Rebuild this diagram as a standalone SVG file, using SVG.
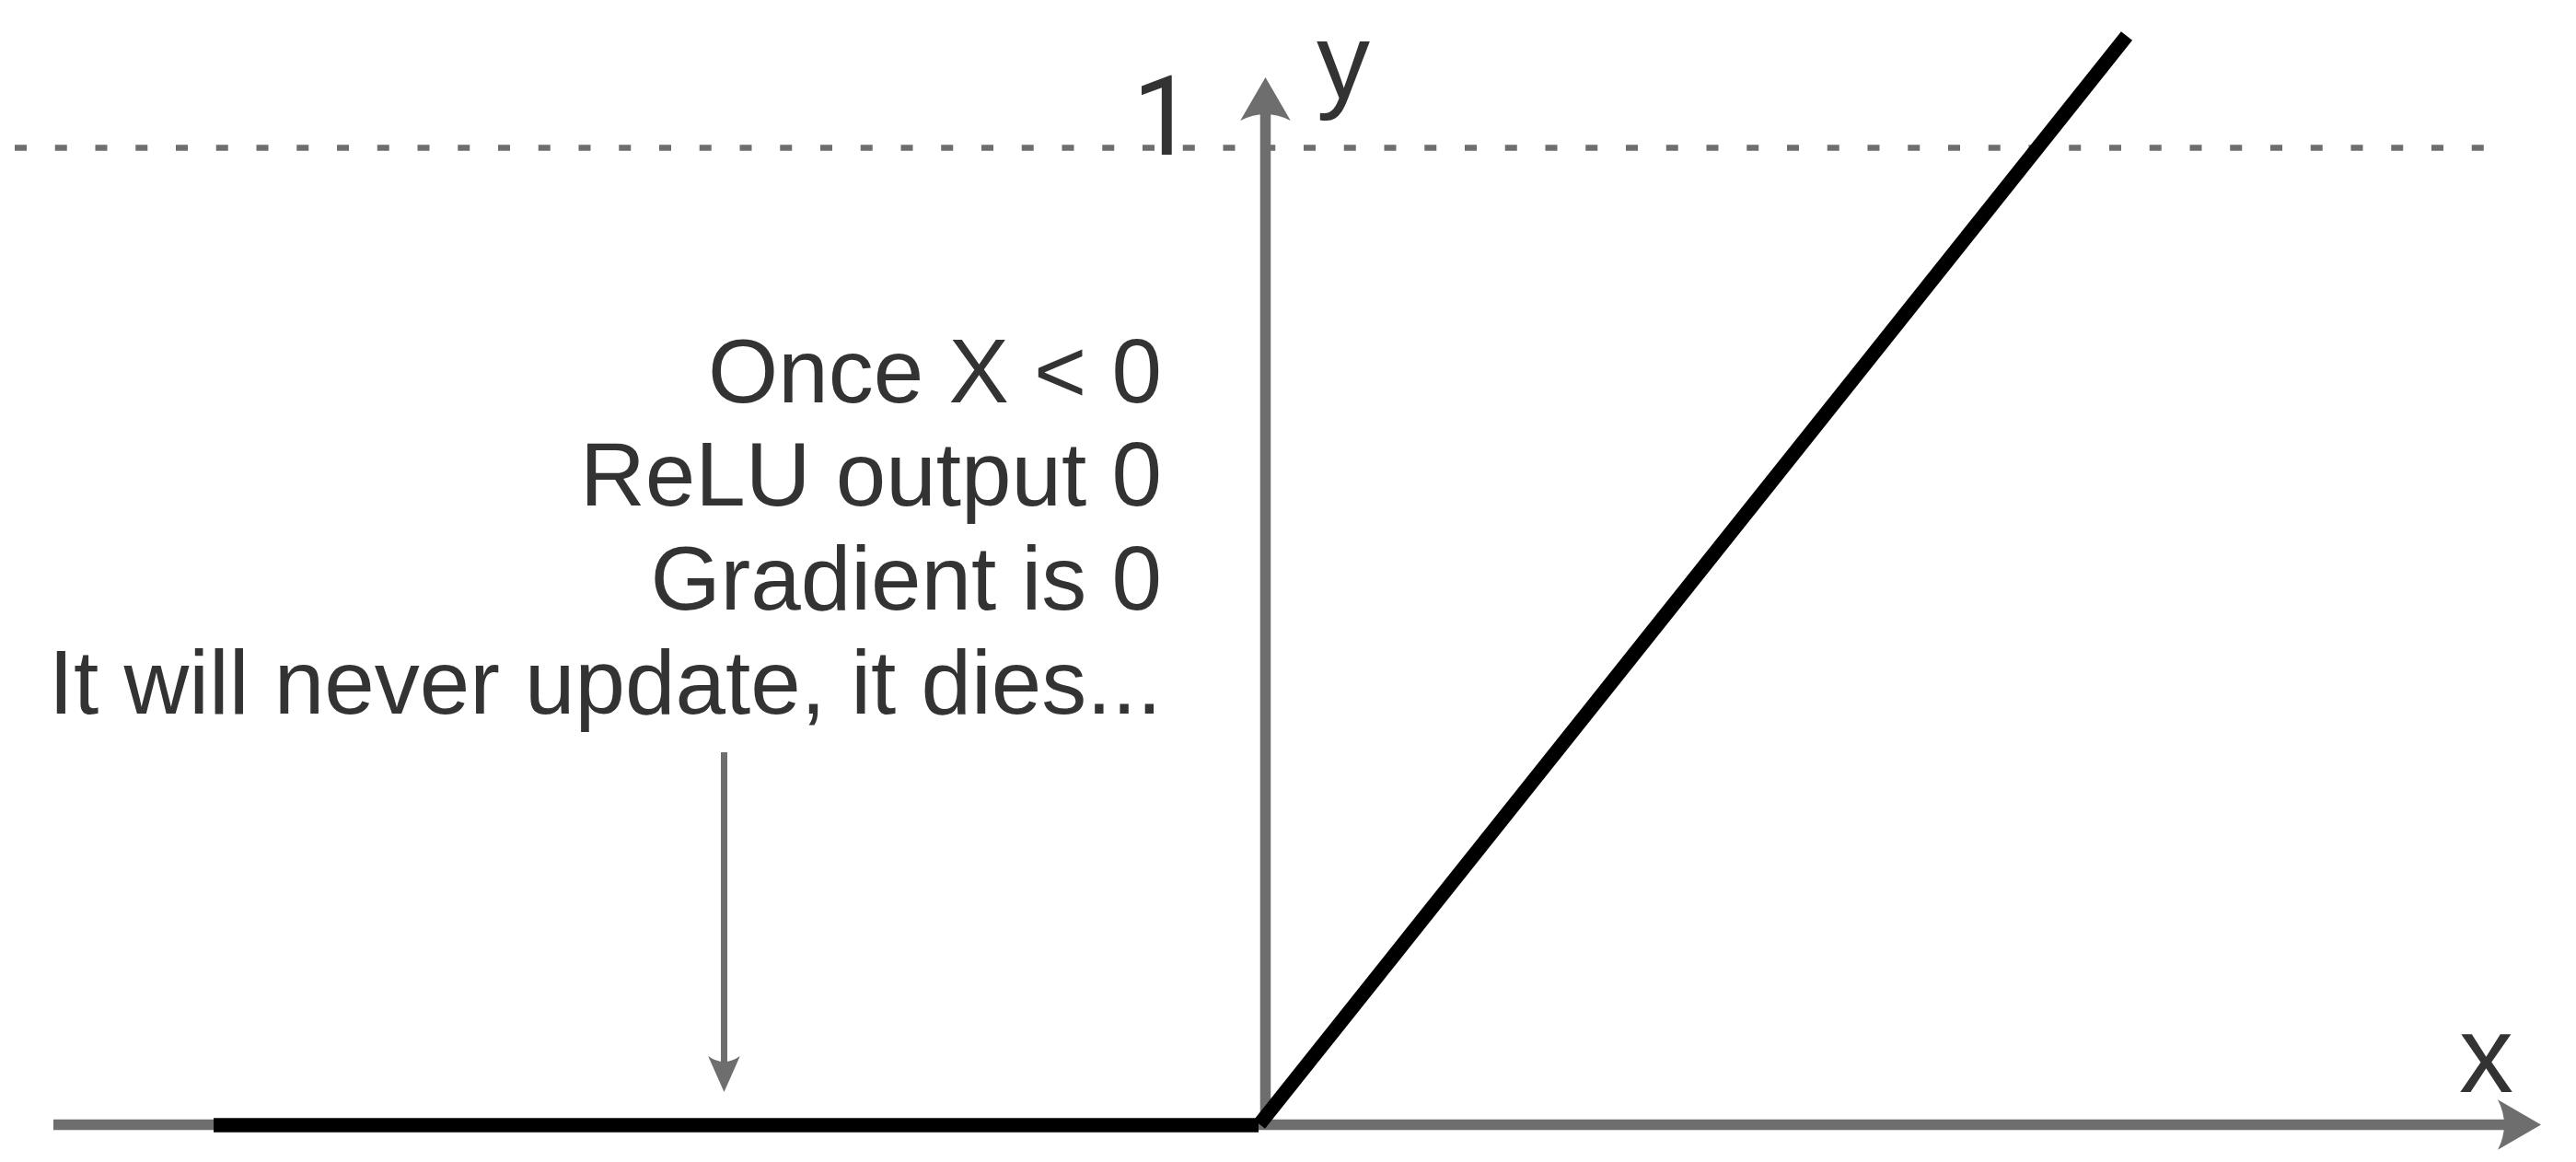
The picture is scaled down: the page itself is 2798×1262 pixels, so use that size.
<svg xmlns="http://www.w3.org/2000/svg" width="2798" height="1262" viewBox="0 0 2798 1262">
  <style>
    .axis { stroke: #6e6e6e; stroke-width: 11.5; fill: none; stroke-linecap: butt; }
    .pointer { stroke: #6e6e6e; stroke-width: 7; fill: none; }
    .dots { stroke: #6e6e6e; stroke-width: 6.5; stroke-dasharray: 13 30.75; fill: none; }
    .relu { stroke: #000000; stroke-width: 15.5; fill: none; stroke-linecap: butt; }
    .lbl { font-family: "Liberation Sans", Arial, sans-serif; fill: #333333; }
    .note { font-size: 98px; text-anchor: end; }
  </style>
  <defs>
    <marker id="axHead" markerUnits="userSpaceOnUse" orient="auto" refX="0" refY="0" markerWidth="50" markerHeight="60" overflow="visible">
      <path d="M40,0 L-7,-27.3 Q7,0 -7,27.3 Z" fill="#6e6e6e"/>
    </marker>
    <marker id="smHead" markerUnits="userSpaceOnUse" orient="auto" refX="0" refY="0" markerWidth="40" markerHeight="36" overflow="visible">
      <path d="M33,0 L-6,-17.3 Q6,0 -6,17.3 Z" fill="#6e6e6e"/>
    </marker>
  </defs>
  <rect width="2798" height="1262" fill="#ffffff"/>

  <g id="gridline">
    <line class="dots" x1="16" y1="160.5" x2="2698" y2="160.5"/>
  </g>

  <g id="connectors">
    <line class="axis" x1="58" y1="1221.5" x2="2720" y2="1221.5" marker-end="url(#axHead)"/>
    <line class="axis" x1="1374.5" y1="1227" x2="1374.5" y2="124" marker-end="url(#axHead)"/>
    <line class="pointer" x1="786.5" y1="817" x2="786.5" y2="1153" marker-end="url(#smHead)"/>
  </g>

  <g id="relu-curve">
    <line class="relu" x1="232" y1="1222" x2="1367" y2="1222"/>
    <line class="relu" x1="1368" y1="1221" x2="2310" y2="39"/>
  </g>

  <g id="label-one">
    <text x="1230" y="168" font-size="120" font-family="Roboto, 'Noto Sans', sans-serif" fill="#333333">1</text>
  </g>
  <g id="label-y">
    <text class="lbl" x="1430" y="107" font-size="116">y</text>
  </g>
  <g id="label-x">
    <text class="lbl" x="2671" y="1186" font-size="118">x</text>
  </g>
  <g id="note">
    <text class="lbl note" x="1262" y="437">Once X &lt; 0</text>
    <text class="lbl note" x="1262" y="549">ReLU output 0</text>
    <text class="lbl note" x="1262" y="662">Gradient is 0</text>
    <text class="lbl note" x="1262" y="775">It will never update, it dies...</text>
  </g>
</svg>
